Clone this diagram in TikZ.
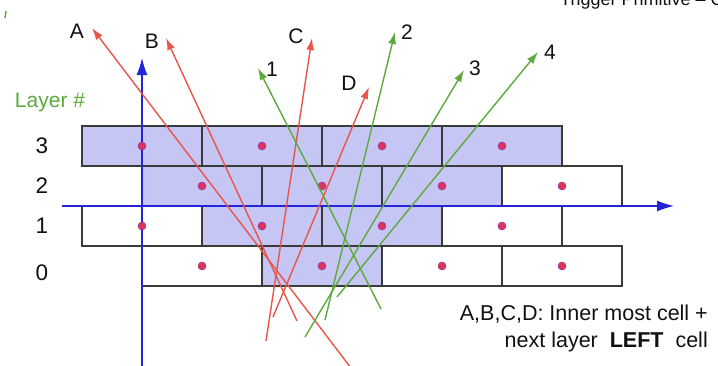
\documentclass[tikz,border=0pt]{standalone}
\usepackage{fontspec}
\setmainfont{Liberation Sans}
\usetikzlibrary{arrows.meta}
\definecolor{ink}{HTML}{111111}
\definecolor{cellborder}{HTML}{3A3A3A}
\definecolor{cellfill}{HTML}{C6C6F5}
\definecolor{axisblue}{HTML}{2424D8}
\definecolor{hitred}{HTML}{DC3560}
\definecolor{trackred}{HTML}{E8554A}
\definecolor{trackgreen}{HTML}{5CAA3C}
\tikzset{
  cell/.style={draw=cellborder,line width=1.1pt},
  hit/.style={circle,fill=hitred,draw=hitred!60!blue,line width=0.4pt,inner sep=0pt,minimum size=8pt},
  axis/.style={-{Latex[length=17pt,width=11pt]},draw=axisblue,line width=1.2pt},
  redtrack/.style={-{Latex[length=12pt,width=8pt]},draw=trackred,line width=1.4pt},
  greentrack/.style={-{Latex[length=12pt,width=8pt]},draw=trackgreen,line width=1.4pt},
  tag/.style={font=\fontsize{21}{25}\selectfont,text=ink,inner sep=0pt},
}

\begin{document}
\begin{tikzpicture}[x=1pt,y=-1pt]
  \clip (0,0) rectangle (718,365);

  % Slide leftovers cut by the frame.
  \node[anchor=base west,font=\fontsize{18}{21}\selectfont,text=ink,inner sep=0pt]
    (slidetitle) at (560,5) {Trigger Primitive -- C};
  \draw[trackgreen,line width=1.5pt] (6,11) -- (5,18);

  % Four layers of staggered cells; shaded ones belong to the road.
  \foreach \cx/\cy/\fillc in {82/126/cellfill,202/126/cellfill,322/126/cellfill,442/126/cellfill,
      142/166/cellfill,262/166/cellfill,382/166/cellfill,502/166/white,
      82/206/white,202/206/cellfill,322/206/cellfill,442/206/white,
      142/246/white,262/246/cellfill,382/246/white,502/246/white} {
    \draw[cell,fill=\fillc] (\cx,\cy) rectangle ++(120,40);
  }

  \coordinate (xstart) at (62,206);
  \coordinate (xend) at (674,206);
  \coordinate (ystart) at (142,366);
  \coordinate (yend) at (142,58);
  \draw[axis] (xstart) -- (xend);
  \draw[axis] (ystart) -- (yend);

  \foreach \cx/\cy in {82/126,202/126,322/126,442/126,142/166,262/166,382/166,502/166,
      82/206,202/206,322/206,442/206,142/246,262/246,382/246,502/246} {
    \node[hit] at (\cx+60,\cy+20) {};
  }

  % Layer numbers
  \node[anchor=base,font=\fontsize{21}{25}\selectfont,text=trackgreen,inner sep=0pt]
    (layerhead) at (50,107) {Layer \#};
  \foreach \n/\y in {3/146,2/186,1/226,0/273} {
    \node[tag,font=\fontsize{22.5}{27}\selectfont] (layer\n) at (42,\y) {\n};
  }

  % Red tracks A-D
  \foreach \name/\xa/\ya/\xb/\yb in {A/351/368/92/28,B/297/321/166/38,C/266/341/312/38,D/273/317/369/87} {
    \coordinate (\name-start) at (\xa,\ya);
    \coordinate (\name-tip) at (\xb,\yb);
    \draw[redtrack] (\name-start) -- (\name-tip);
  }
  % Green tracks 1-4
  \foreach \name/\xa/\ya/\xb/\yb in {1/381/309/258/68,2/325/320/395/32,3/305/337/464/70,4/337/297/538/52} {
    \coordinate (t\name-start) at (\xa,\ya);
    \coordinate (t\name-tip) at (\xb,\yb);
    \draw[greentrack] (t\name-start) -- (t\name-tip);
  }

  \foreach \name/\x/\y in {A/77/31,B/152/41,C/296/36,D/349/83,1/272/69,2/407/32,3/475/68,4/550/52} {
    \node[tag] (lab\name) at (\x,\y) {\name};
  }

  \node[anchor=base east,font=\fontsize{21.5}{26}\selectfont,text=ink,inner sep=0pt]
    (noteone) at (708,320) {A,B,C,D: Inner most cell +};
  \node[anchor=base east,font=\fontsize{21.5}{26}\selectfont,text=ink,inner sep=0pt]
    (notetwo) at (708,347) {next layer \ \textbf{LEFT} \ cell};
\end{tikzpicture}
\end{document}
